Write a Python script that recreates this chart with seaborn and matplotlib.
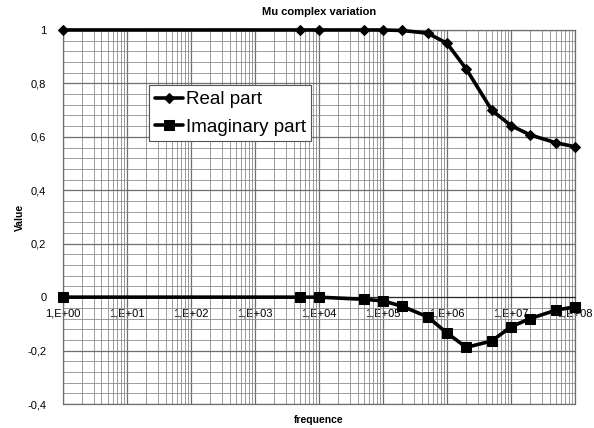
import numpy as np
import pandas as pd
import matplotlib
matplotlib.use("Agg")
import matplotlib.pyplot as plt
import matplotlib.ticker as mticker
import seaborn as sns

# data
freq = [1, 5e3, 1e4, 5e4, 1e5, 2e5, 5e5, 1e6, 2e6, 5e6, 1e7, 2e7, 5e7, 1e8]
real_part = [1.0, 1.0, 1.0, 1.0, 1.0, 0.998, 0.988, 0.95, 0.854, 0.70, 0.642, 0.607, 0.578, 0.563]
imag_part = [0.0, 0.0, 0.0, -0.008, -0.014, -0.034, -0.074, -0.134, -0.188, -0.164, -0.111, -0.080, -0.049, -0.036]
decades = [1, 1e1, 1e2, 1e3, 1e4, 1e5, 1e6, 1e7, 1e8]

df = pd.DataFrame({"freq": freq, "Real part": real_part, "Imaginary part": imag_part})

sns.set_style("white")
plt.rcParams['font.family'] = ['Liberation Sans', 'DejaVu Sans']
plt.rcParams['text.color'] = 'black'

fig = plt.figure(figsize=(5.94, 4.28), dpi=100)
ax = fig.add_axes([0.106, 0.056, 0.862, 0.874])

sns.lineplot(data=df, x="freq", y="Real part", ax=ax, color="black", lw=2.6,
             marker="D", markersize=5.5, markeredgecolor="black", label="Real part", clip_on=False, zorder=5)
sns.lineplot(data=df, x="freq", y="Imaginary part", ax=ax, color="black", lw=2.6,
             marker="s", markersize=6.5, markeredgecolor="black", label="Imaginary part", clip_on=False, zorder=5)

ax.set_xscale("log")
ax.set_xlim(1, 1e8)
ax.set_ylim(-0.4, 1)

ax.xaxis.set_major_locator(mticker.FixedLocator(decades))
ax.xaxis.set_minor_locator(mticker.LogLocator(base=10, subs=np.arange(2, 10), numticks=100))
ax.xaxis.set_major_formatter(mticker.FuncFormatter(lambda v, p: "1,E+%02d" % int(round(np.log10(v)))))
ax.xaxis.set_minor_formatter(mticker.NullFormatter())
ax.yaxis.set_major_locator(mticker.MultipleLocator(0.2))
ax.yaxis.set_minor_locator(mticker.MultipleLocator(0.04))
ax.yaxis.set_major_formatter(mticker.FuncFormatter(lambda v, p: ("%g" % round(v, 2)).replace(".", ",")))

ax.grid(which="major", color="#6e6e6e", lw=0.9)
ax.grid(which="minor", color="#8c8c8c", lw=0.6)
ax.set_axisbelow(True)

ax.spines['bottom'].set_position(('data', 0))
for s in ['top', 'right', 'left']:
    ax.spines[s].set_color("#6e6e6e")
    ax.spines[s].set_linewidth(0.9)
ax.axhline(-0.4, color="#6e6e6e", lw=0.9, clip_on=False)

ax.tick_params(axis="x", which="both", length=0, pad=8, labelsize=8, labelcolor="black")
ax.tick_params(axis="y", which="both", length=0, pad=12, labelsize=8, labelcolor="black")

ax.set_title("Mu complex variation", fontsize=8, fontweight="bold", pad=11)
ax.set_xlabel("frequence", fontsize=7.5, fontweight="bold", color="black")
ax.set_ylabel("Value", fontsize=7.5, fontweight="bold", color="black")
ax.xaxis.set_label_coords(0.5, -0.028)
ax.yaxis.set_label_coords(-0.075, 0.5)

leg = ax.legend(loc="upper left", bbox_to_anchor=(0.168, 0.852), fontsize=13.5,
                frameon=True, fancybox=False, edgecolor="#555555", framealpha=1,
                handlelength=1.5, handletextpad=0.15, borderpad=0.3, labelspacing=0.55,
                borderaxespad=0)
leg.get_frame().set_linewidth(0.8)
leg.set_zorder(10)

fig.savefig("out.png", dpi=100)
